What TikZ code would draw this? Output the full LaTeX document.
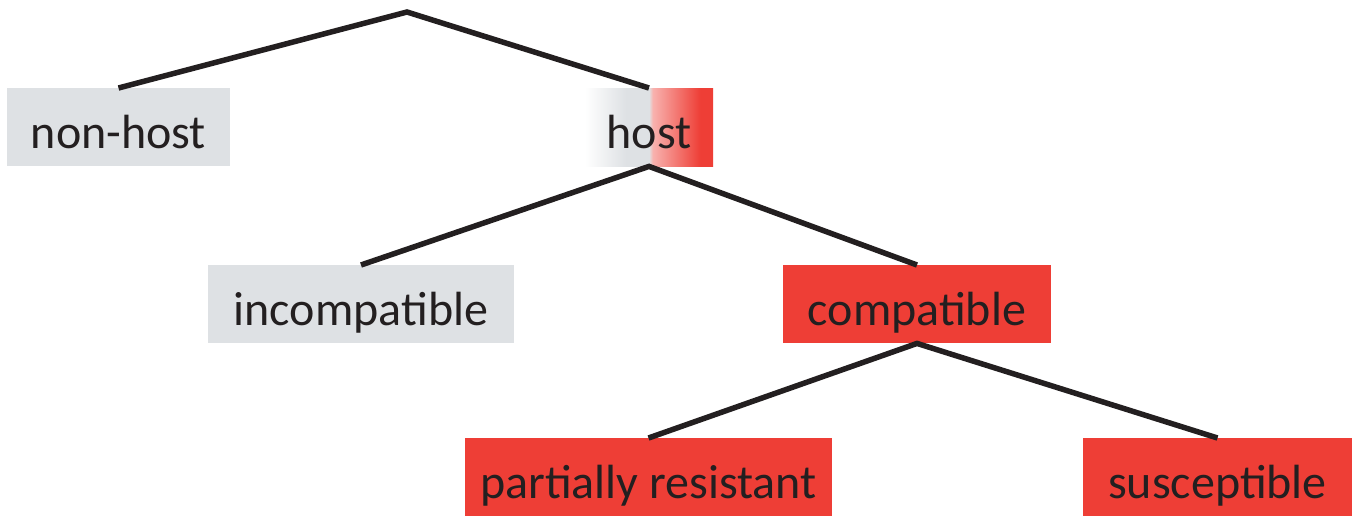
\documentclass[tikz,border=0pt]{standalone}
\usepackage{fontspec}
\setmainfont{Carlito}
\definecolor{boxgray}{HTML}{DEE1E4}
\definecolor{boxred}{HTML}{EE3E36}
\definecolor{txt}{HTML}{231F20}
\pgfdeclarehorizontalshading{hostshade}{100bp}{%
  color(0bp)=(white); color(25bp)=(white); color(41bp)=(boxgray);
  color(50bp)=(boxgray); color(51.5bp)=(boxred!40!white);
  color(70bp)=(boxred); color(75bp)=(boxred); color(100bp)=(boxred)}
\begin{document}
\begin{tikzpicture}[x=1pt,y=-1pt,
  lbl/.style={inner sep=0pt, text height=60pt, text depth=18pt,
    font=\fontsize{48}{58}\selectfont, text=txt, anchor=north},
  graybox/.style={lbl, fill=boxgray},
  redbox/.style={lbl, fill=boxred},
  conn/.style={line width=5.5pt, draw=txt, line join=miter}]
\useasboundingbox (0,0) rectangle (1359,515);
\fill[white] (0,0) rectangle (1359,515);
\coordinate (apex) at (407,12);
\node[graybox, minimum width=223pt] (nonhost) at (118.5,88) {non-host};
\node[lbl, minimum width=128pt, shading=hostshade] (host) at (649,88) {host};
\node[graybox, minimum width=306pt] (incomp) at (361,265) {incompatible};
\node[redbox, minimum width=268pt] (compat) at (917,265) {compatible};
\node[redbox, minimum width=367pt] (partial) at (648.5,438) {partially resistant};
\node[redbox, minimum width=269pt] (suscept) at (1217.5,438) {susceptible};
\draw[conn] (nonhost.north) -- (apex) -- (host.north);
\draw[conn] (incomp.north) -- (host.south) -- (compat.north);
\draw[conn] (partial.north) -- (compat.south) -- (suscept.north);
\end{tikzpicture}
\end{document}
